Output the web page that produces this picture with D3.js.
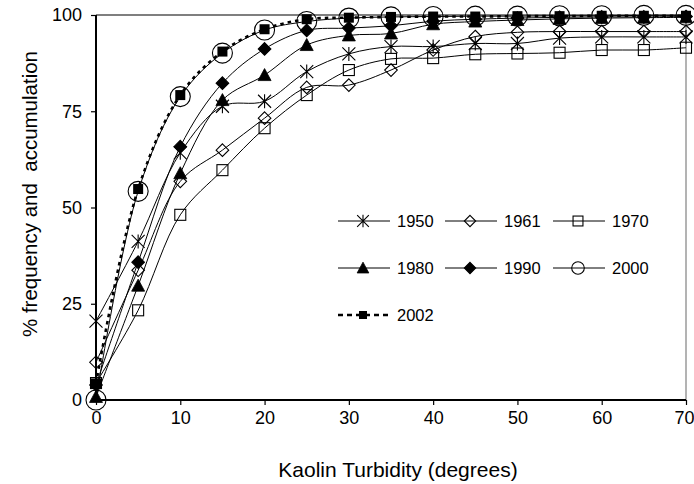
<!DOCTYPE html>
<html>
<head>
<meta charset="utf-8">
<script src="https://cdn.jsdelivr.net/npm/d3@7/dist/d3.min.js"></script>
<style>
  html,body{margin:0;padding:0;background:#fff;}
  svg{display:block;font-family:"Liberation Sans",Arial,sans-serif;}
</style>
</head>
<body>
<div id="chart"></div>
<script>
(function(){
  // turbidity steps (degrees) shared by every series
  const turbidity=[0,5,10,15,20,25,30,35,40,45,50,55,60,65,70];
  const years=["1950","1961","1970","1980","1990","2000","2002"];
  const v1950=[20.5,41.2,64.2,76.3,77.6,85.3,89.9,91.8,91.8,92.6,92.6,94.0,94.3,94.3,94.3];
  const v1961=[9.8,33.7,56.8,64.9,73.2,81.2,81.8,85.7,90.9,94.4,95.5,95.7,95.7,95.7,95.7];
  const v1970=[4.4,23.3,48.1,59.7,70.6,79.2,85.7,88.6,88.8,89.8,90.0,90.2,90.9,90.9,91.5];
  const v1980=[0.8,29.7,58.9,77.9,84.4,92.2,94.7,95.2,97.6,98.3,98.7,99.0,99.2,99.3,99.4];
  const v1990=[3.9,35.8,65.8,82.3,91.2,96.0,96.6,97.2,98.4,98.9,99.2,99.4,99.5,99.5,99.6];
  const v2000=[0,54.2,78.8,90.1,96.1,98.3,99.2,99.5,99.6,99.7,99.7,99.8,99.8,99.9,99.9];
  const v2002=[4.3,54.8,79.2,90.5,96.3,98.9,99.3,99.5,99.6,99.6,99.7,99.7,99.8,99.8,99.8];
  const yTicks=[0,25,50,75,100];
  const xTicks=[0,10,20,30,40,50,60,70];

  const values={"1950":v1950,"1961":v1961,"1970":v1970,"1980":v1980,"1990":v1990,"2000":v2000,"2002":v2002};
  const markerOf={"1950":"asterisk","1961":"diamondOpen","1970":"squareOpen","1980":"triangle","1990":"diamond","2000":"circle","2002":"squareFilled"};

  const W=694,H=484;
  const tickFont="'Liberation Sans Narrow','Liberation Sans',Arial,sans-serif";
  const svg=d3.select("#chart").append("svg").attr("width",W).attr("height",H);
  svg.append("rect").attr("width",W).attr("height",H).attr("fill","#fff");

  const x=d3.scaleLinear().domain([0,70]).range([96,686]);
  const y=d3.scaleLinear().domain([0,100]).range([400,15]);

  // plot frame: top black, right grey
  svg.append("line").attr("x1",x(0)).attr("x2",x(70)).attr("y1",y(100)).attr("y2",y(100))
    .attr("stroke","#000").attr("stroke-width",1.2);
  svg.append("line").attr("x1",x(70)).attr("x2",x(70)).attr("y1",y(100)).attr("y2",y(0))
    .attr("stroke","#808080").attr("stroke-width",1.2);

  const line=d3.line().x((d,i)=>x(turbidity[i])).y(d=>y(d)).curve(d3.curveCatmullRom);

  // marker shapes, drawn around (0,0)
  function marker(g,type,big){
    const k=big?1:0.9;
    if(type==="asterisk"){
      const a=6.5*k;
      g.append("path").attr("d",`M${-a},${-a}L${a},${a}M${-a},${a}L${a},${-a}M0,${-a-0.5}L0,${a+0.5}`)
        .attr("stroke","#000").attr("stroke-width",1.1).attr("fill","none");
    }else if(type==="diamondOpen"||type==="diamond"){
      const a=6.3*k;
      g.append("path").attr("d",`M0,${-a}L${a},0L0,${a}L${-a},0Z`)
        .attr("stroke","#000").attr("stroke-width",1.1)
        .attr("fill",type==="diamond"?"#000":"none");
    }else if(type==="squareOpen"){
      const a=5.5*k;
      g.append("rect").attr("x",-a).attr("y",-a).attr("width",2*a).attr("height",2*a)
        .attr("stroke","#000").attr("stroke-width",1.1).attr("fill","none");
    }else if(type==="triangle"){
      const a=6.5*k;
      g.append("path").attr("d",`M0,${-a}L${a},${a*0.85}L${-a},${a*0.85}Z`)
        .attr("fill","#000").attr("stroke","#000").attr("stroke-width",0.8);
    }else if(type==="circle"){
      g.append("circle").attr("r",big?10:6.3)
        .attr("stroke","#000").attr("stroke-width",1.1).attr("fill","none");
    }else if(type==="squareFilled"){
      const a=big?5:4;
      g.append("rect").attr("x",-a).attr("y",-a).attr("width",2*a).attr("height",2*a)
        .attr("fill","#000");
    }
  }

  years.forEach(yr=>{
    const dashed=yr==="2002";
    svg.append("path").datum(values[yr]).attr("d",line)
      .attr("fill","none").attr("stroke","#000")
      .attr("stroke-width",dashed?2.6:1)
      .attr("stroke-dasharray",dashed?"3.5 4":null);
    values[yr].forEach((v,i)=>{
      const g=svg.append("g").attr("transform",`translate(${x(turbidity[i])},${y(v)})`);
      marker(g,markerOf[yr],true);
    });
  });

  // axes
  svg.append("g").attr("transform",`translate(0,${y(0)})`)
    .call(d3.axisBottom(x).tickValues(xTicks).tickSize(5).tickPadding(6).tickFormat(d3.format("d")))
    .call(s=>s.select(".domain").attr("stroke","#000").attr("stroke-width",2).attr("d",`M${x(0)},0H${x(70)}`))
    .call(s=>s.selectAll(".tick line").attr("stroke","#000").attr("stroke-width",1.2))
    .call(s=>s.selectAll("text").attr("font-size",18).attr("fill","#000").attr("font-family",tickFont))
    .call(s=>s.selectAll(".tick").filter(d=>d===70).select("text").attr("text-anchor","end").attr("dx",8));
  svg.append("g").attr("transform",`translate(${x(0)},0)`)
    .call(d3.axisLeft(y).tickValues(yTicks).tickSize(5).tickPadding(9))
    .call(s=>s.select(".domain").attr("stroke","#000").attr("stroke-width",2).attr("d",`M0,${y(0)}V${y(100)}`))
    .call(s=>s.selectAll(".tick line").attr("stroke","#000").attr("stroke-width",1.2))
    .call(s=>s.selectAll("text").attr("font-size",18).attr("fill","#000").attr("font-family",tickFont));

  // axis titles
  svg.append("text").attr("x",398).attr("y",477).attr("text-anchor","middle")
    .attr("font-size",21).attr("fill","#000").text("Kaolin Turbidity (degrees)");
  svg.append("text").attr("transform","translate(37,194) rotate(-90)").attr("text-anchor","middle")
    .attr("font-size",20.5).attr("fill","#000").style("white-space","pre")
    .text("% frequency and  accumulation");

  // legend
  const legCols=[338,445,553], legRows=[221,268,315];
  years.forEach((yr,i)=>{
    const cx=legCols[i%3], cy=legRows[Math.floor(i/3)];
    const g=svg.append("g").attr("transform",`translate(${cx},${cy})`);
    const dashed=yr==="2002";
    g.append("line").attr("x1",0).attr("x2",52).attr("y1",0).attr("y2",0)
      .attr("stroke","#000").attr("stroke-width",dashed?2.6:1)
      .attr("stroke-dasharray",dashed?"5 4":null);
    const m=g.append("g").attr("transform","translate(25,0)");
    marker(m,markerOf[yr],false);
    g.append("text").attr("x",59).attr("y",6).attr("font-size",16.5).attr("fill","#000").text(yr);
  });
})();
</script>
</body>
</html>
